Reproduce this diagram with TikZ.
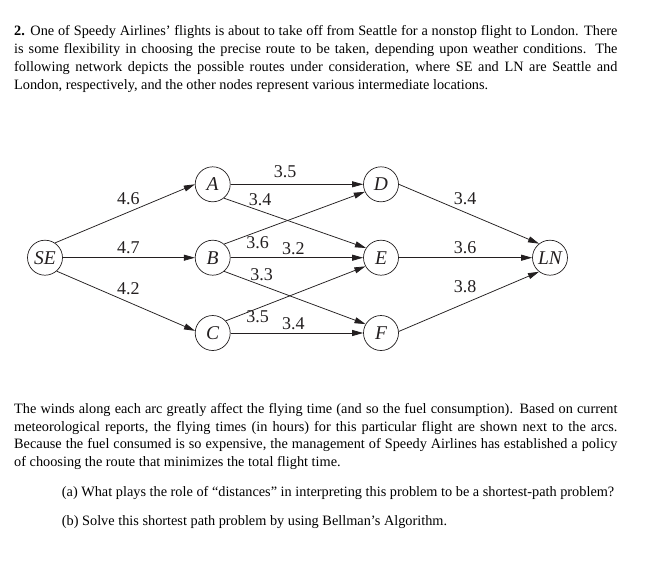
\documentclass[tikz,border=0pt]{standalone}
\usepackage{fontspec}
\setmainfont{Liberation Serif}
\usetikzlibrary{arrows.meta}
\definecolor{netink}{HTML}{231F20}

\begin{document}
\begin{tikzpicture}[
  x=1pt, y=-1pt,
  font=\rmfamily,
  city/.style={circle, draw=netink, line width=0.7pt, minimum size=35pt,
    inner sep=0pt, text=netink, font=\fontsize{19.5}{21}\selectfont\itshape},
  leg/.style={draw=netink, line width=0.75pt, -{Triangle[length=11pt,width=6pt]}},
  hours/.style={inner sep=0pt, text=netink, font=\fontsize{18}{20}\selectfont},
  para/.style={anchor=base west, inner sep=0pt, text width=603.3pt, align=justify,
    text=black, font=\fontsize{14.3}{17.8}\selectfont},
  qline/.style={anchor=base west, inner sep=0pt, text=black,
    font=\fontsize{14.3}{17.8}\selectfont},
]

\path[use as bounding box, fill=white] (0,0) rectangle (657,566);

% ===== problem statement =====
\node[para] (intro) at (14,35.7)
  {\textbf{2.} One of Speedy Airlines’ flights is about to take off from Seattle for a nonstop flight to London. There\linebreak
  is some flexibility in choosing the precise route to be taken, depending upon weather conditions. The\linebreak
  following network depicts the possible routes under consideration, where SE and LN are Seattle and\linebreak
  London, respectively, and the other nodes represent various intermediate locations.};

% ===== network =====
\node[city] (SE) at (45,257.7) {SE};
\node[city] (A) at (212.7,184.3) {A};
\node[city] (B) at (212.7,257.7) {B};
\node[city] (C) at (212.7,333) {C};
\node[city] (D) at (381,184.3) {D};
\node[city] (E) at (381,257.7) {E};
\node[city] (F) at (381,333) {F};
\node[city] (LN) at (550,257.7) {LN};

\draw[leg] (SE.56) -- (A.west);
\draw[leg] (SE) -- (B);
\draw[leg] (SE.-49) -- (C.173);

\draw[leg] (A) -- (D);
\draw[leg] (A.-51) -- (E.147);
\draw[leg] (B.50) -- (D.205);
\draw[leg] (B) -- (E);
\draw[leg] (B.-50) -- (F.150);
\draw[leg] (C.43) -- (E.209);
\draw[leg] (C) -- (F);

\draw[leg] (D.east) -- (LN.128);
\draw[leg] (E) -- (LN);
\draw[leg] (F.5) -- (LN.232);

% ===== flying times =====
\node[hours] (tSEA) at (128.3,198.3) {4.6};
\node[hours] (tSEB) at (128.3,247.3) {4.7};
\node[hours] (tSEC) at (128.3,288.3) {4.2};
\node[hours] (tAD) at (285,172) {3.5};
\node[hours] (tAE) at (260,199.5) {3.4};
\node[hours] (tBD) at (257.5,243) {3.6};
\node[hours] (tBE) at (293.3,248.3) {3.2};
\node[hours] (tBF) at (261.5,274.5) {3.3};
\node[hours] (tCE) at (257.5,316.3) {3.5};
\node[hours] (tCF) at (293.3,323.3) {3.4};
\node[hours] (tDLN) at (465,198.3) {3.4};
\node[hours] (tELN) at (465,247.3) {3.6};
\node[hours] (tFLN) at (465,286.7) {3.8};

% ===== questions =====
\node[para] (winds) at (14,413.3)
  {The winds along each arc greatly affect the flying time (and so the fuel consumption). Based on current\linebreak
  meteorological reports, the flying times (in hours) for this particular flight are shown next to the arcs.\linebreak
  Because the fuel consumed is so expensive, the management of Speedy Airlines has established a policy\linebreak
  of choosing the route that minimizes the total flight time.};
\node[qline] (qa) at (61.7,496.7)
  {(a) What plays the role of “distances” in interpreting this problem to be a shortest-path problem?};
\node[qline] (qb) at (61.7,525)
  {(b) Solve this shortest path problem by using Bellman’s Algorithm.};

\end{tikzpicture}
\end{document}
